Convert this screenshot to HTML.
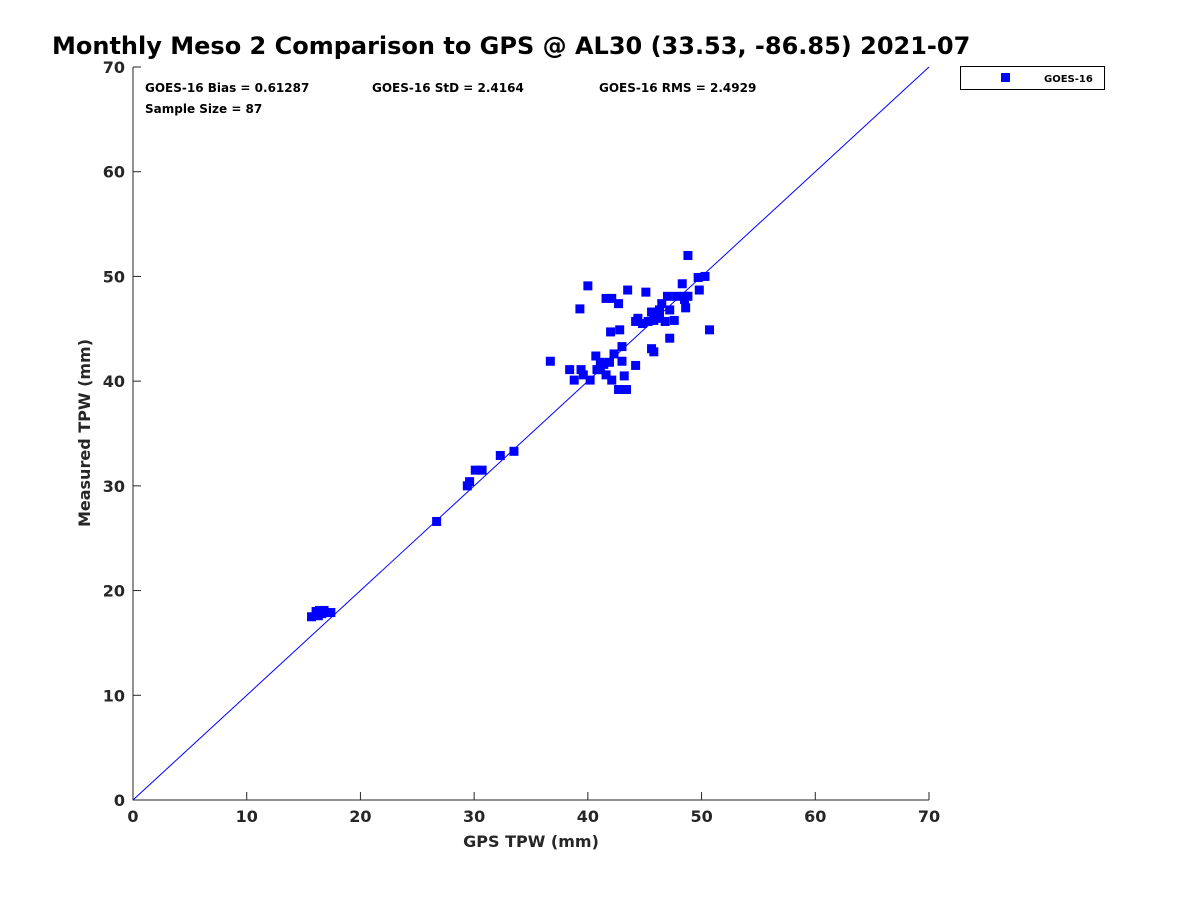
<!DOCTYPE html>
<html><head><meta charset="utf-8"><style>
body{margin:0;background:#fff;font-family:"DejaVu Sans",sans-serif}
</style></head><body>
<svg width="1200" height="900" style="font-family:'DejaVu Sans',sans-serif">
<rect width="1200" height="900" fill="#fff"/>
<text x="52" y="54" font-size="24" font-weight="bold">Monthly Meso 2 Comparison to GPS @ AL30 (33.53, -86.85) 2021-07</text>
<g id="axes"></g>
<g id="pts"></g>
<text x="145" y="92" font-size="12" font-weight="bold">GOES-16 Bias = 0.61287</text>
<text x="372" y="92" font-size="12" font-weight="bold">GOES-16 StD = 2.4164</text>
<text x="599" y="92" font-size="12" font-weight="bold">GOES-16 RMS = 2.4929</text>
<text x="145" y="113" font-size="12" font-weight="bold">Sample Size = 87</text>
<g>
<rect x="960.5" y="66.5" width="144" height="23" fill="#fff" stroke="#000"/>
<rect x="1001" y="73" width="9" height="9" fill="#0000ff"/>
<text x="1044" y="82" font-size="10" font-weight="bold">GOES-16</text>
</g>
<text x="531" y="847" font-size="16" font-weight="bold" text-anchor="middle" fill="#262626">GPS TPW (mm)</text>
<text transform="translate(90,433) rotate(-90)" font-size="16" font-weight="bold" text-anchor="middle" fill="#262626">Measured TPW (mm)</text>
</svg>
<script>
const xs=[48.8,40.0,43.5,45.1,48.3,49.7,50.3,49.8,39.3,41.6,42.1,42.7,50.7,42.0,42.8,36.7,38.4,38.8,39.4,39.6,40.2,40.7,41.1,40.8,41.6,42.1,41.9,42.3,43.0,43.0,43.2,42.7,43.4,44.2,45.6,45.8,44.4,44.2,44.8,45.3,45.8,46.0,46.3,46.5,46.8,47.2,47.6,47.2,47.0,47.8,48.5,48.8,48.5,48.6,46.3,45.6,41.1,41.4,15.7,16.1,16.4,16.8,16.3,17.1,17.4,16.6,26.7,29.4,29.6,30.1,30.7,32.3,33.5];
const ys=[52.0,49.1,48.7,48.5,49.3,49.9,50.0,48.7,46.9,47.9,47.9,47.4,44.9,44.7,44.9,41.9,41.1,40.1,41.1,40.6,40.1,42.4,41.8,41.1,40.6,40.1,41.8,42.6,43.3,41.9,40.5,39.2,39.2,41.5,43.1,42.8,46.0,45.7,45.5,45.7,45.8,46.4,46.8,47.4,45.7,46.8,45.8,44.1,48.1,48.1,48.1,48.1,47.8,47.0,46.0,46.6,41.1,41.6,17.5,18.0,18.1,18.1,17.6,17.9,17.9,17.8,26.6,30.0,30.4,31.5,31.5,32.9,33.3];
const ticks=[0,10,20,30,40,50,60,70];
const X0=133,X1=929,Y0=800,Y1=67,MAX=70;
const sx=v=>X0+(X1-X0)*v/MAX, sy=v=>Y0-(Y0-Y1)*v/MAX;
const NS='http://www.w3.org/2000/svg';
function mk(t,a,p){const e=document.createElementNS(NS,t);for(const k in a)e.setAttribute(k,a[k]);p.appendChild(e);return e;}
const ax=document.getElementById('axes');
const frame=mk('path',{d:`M${X0},${Y1}V${Y0}H${X1}`,fill:'none',stroke:'#262626','stroke-width':1},ax);


ticks.forEach(t=>{
 const x=sx(t),y=sy(t);
 mk('line',{x1:x,y1:Y0,x2:x,y2:Y0-8,stroke:'#262626'},ax);
 mk('line',{x1:X0,y1:y,x2:X0+8,y2:y,stroke:'#262626'},ax);
 const tx=mk('text',{x:x,y:Y0+22,'font-size':16,'font-weight':'bold','text-anchor':'middle',fill:'#262626'},ax);
 tx.textContent=t;
 
 
 const ty=mk('text',{x:X0-8,y:y+6,'font-size':16,'font-weight':'bold','text-anchor':'end',fill:'#262626'},ax);
 ty.textContent=t;
 
 
});
const pg=document.getElementById('pts');
xs.forEach((v,i)=>{
 const r=mk('rect',{x:sx(v)-4.5,y:sy(ys[i])-4.5,width:9,height:9,fill:'#0000ff'},pg);
 
 
});
const ln=mk('line',{x1:sx(0),y1:sy(0),x2:sx(70),y2:sy(70),stroke:'#0000ff','stroke-width':1},pg);


</script>
</body></html>
